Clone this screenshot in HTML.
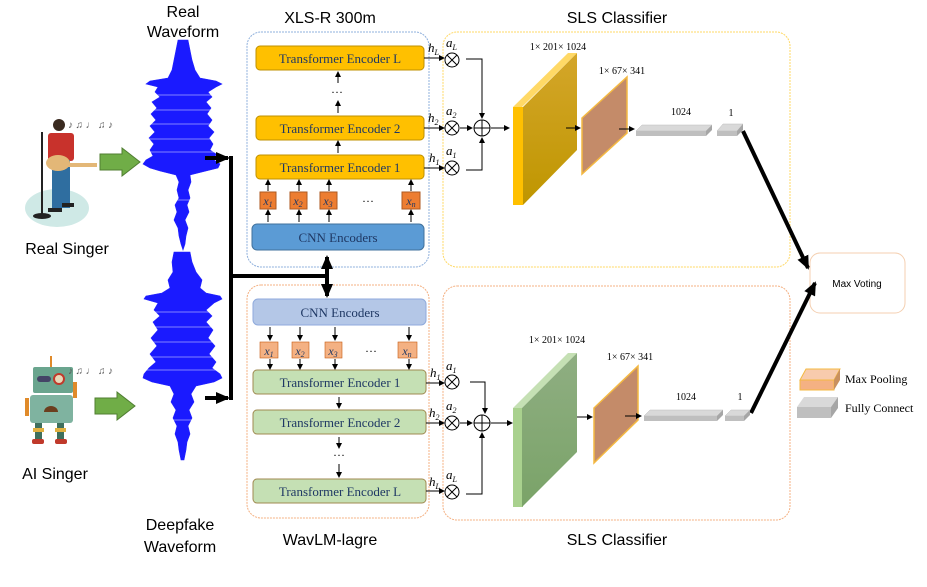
<!DOCTYPE html>
<html><head><meta charset="utf-8"><style>
html,body{margin:0;padding:0;background:#fff;}
svg{display:block;}
.sans{font-family:"Liberation Sans",sans-serif;}
.serif{font-family:"Liberation Serif",serif;}
</style></head><body>
<svg width="927" height="587" viewBox="0 0 927 587" xmlns="http://www.w3.org/2000/svg">
<defs>
<marker id="a" markerWidth="6" markerHeight="6" refX="5" refY="3" orient="auto" markerUnits="userSpaceOnUse"><path d="M0,0 L6,3 L0,6z" fill="#000"/></marker>
<marker id="b" markerWidth="14" markerHeight="12" refX="12" refY="6" orient="auto" markerUnits="userSpaceOnUse"><path d="M0,0 L14,6 L0,12z" fill="#000"/></marker>
<linearGradient id="gy" x1="0" y1="0" x2="0" y2="1"><stop offset="0" stop-color="#d4a62a"/><stop offset="1" stop-color="#bf9600"/></linearGradient>
<linearGradient id="gg" x1="0" y1="0" x2="0" y2="1"><stop offset="0" stop-color="#8fae82"/><stop offset="1" stop-color="#7aa368"/></linearGradient>
</defs>

<g class="sans" font-size="16" fill="#000" text-anchor="middle">
<text x="183" y="17">Real</text><text x="183" y="37">Waveform</text>
<text x="330" y="23">XLS-R 300m</text>
<text x="617" y="23">SLS  Classifier</text>
<text x="67" y="254">Real Singer</text>
<text x="55" y="479">AI Singer</text>
<text x="180" y="530">Deepfake</text><text x="180" y="552">Waveform</text>
<text x="330" y="545">WavLM-lagre</text>
<text x="617" y="545">SLS  Classifier</text>
</g>

<!-- waveforms -->
<g fill="#1a1aff" stroke="#2020ff" stroke-width="0.6">
<polygon points="178,40 176,50 174,60 172,70 168,78 150,81 146,84 158,87 155,92 160,97 152,102 157,108 151,114 156,120 150,126 155,132 149,138 154,144 150,150 153,156 146,160 143,164 150,168 160,171 176,175 179,182 177,190 179,198 175,205 177,212 174,220 178,228 179,236 181,244 183,250 185,244 186,236 188,228 185,220 189,212 187,205 190,198 188,190 191,182 190,175 206,171 218,168 220,164 214,160 216,154 210,150 213,144 209,138 214,132 208,126 212,120 207,114 211,108 206,102 212,97 208,92 216,87 222,84 216,81 200,78 195,70 192,60 190,50 188,40"/>
<polygon points="174,252 172,262 173,272 168,280 170,288 162,293 146,296 144,299 158,303 154,310 160,316 153,322 158,330 151,338 157,346 150,354 156,362 149,368 144,374 143,378 152,382 170,386 174,394 171,402 176,410 173,418 177,426 175,434 178,442 179,450 181,460 184,460 186,450 187,442 190,434 188,426 192,418 189,410 194,402 191,394 196,386 214,382 222,378 220,374 212,368 216,362 209,354 215,346 208,338 213,330 206,322 212,316 206,310 214,303 222,299 220,296 206,293 200,288 202,280 196,272 192,262 190,252"/>
</g>
<g stroke="#fff" stroke-width="0.7" opacity="0.6">
<line x1="140" y1="95" x2="226" y2="95"/><line x1="140" y1="110" x2="226" y2="110"/><line x1="140" y1="124" x2="226" y2="124"/><line x1="140" y1="139" x2="226" y2="139"/><line x1="140" y1="152" x2="226" y2="152"/><line x1="140" y1="200" x2="226" y2="200"/>
<line x1="140" y1="312" x2="226" y2="312"/><line x1="140" y1="327" x2="226" y2="327"/><line x1="140" y1="342" x2="226" y2="342"/><line x1="140" y1="357" x2="226" y2="357"/><line x1="140" y1="370" x2="226" y2="370"/><line x1="140" y1="420" x2="226" y2="420"/>
</g>

<!-- real singer -->
<ellipse cx="57" cy="208" rx="32" ry="19" fill="#cfe9e6"/>
<line x1="42" y1="132" x2="42" y2="215" stroke="#222" stroke-width="2"/>
<ellipse cx="42" cy="216" rx="9" ry="3" fill="#222"/>
<circle cx="59" cy="125" r="6" fill="#3a2a20"/>
<rect x="48" y="133" width="26" height="28" rx="3" fill="#c8322c"/>
<rect x="52" y="160" width="18" height="48" fill="#2f6ea0"/>
<rect x="48" y="208" width="14" height="4" fill="#222"/><rect x="62" y="203" width="12" height="4" fill="#222"/>
<ellipse cx="58" cy="163" rx="12" ry="8" fill="#e3b777"/>
<rect x="64" y="163" width="33" height="4" fill="#e3b777"/>
<text x="68" y="128" class="serif" font-size="10" fill="#555">♪ ♫ ♩ ♫ ♪</text>
<polygon points="100,154 122,154 122,148 140,162 122,176 122,170 100,170" fill="#70ad47" stroke="#507e32" stroke-width="1"/>

<!-- robot -->
<line x1="51" y1="356" x2="51" y2="367" stroke="#e08a2a" stroke-width="2"/>
<rect x="33" y="367" width="40" height="26" rx="2" fill="#6aa58e"/>
<circle cx="59" cy="379" r="5" fill="#e8d8b8" stroke="#c0392b" stroke-width="2"/>
<rect x="37" y="376" width="14" height="6" rx="3" fill="#446"/>
<rect x="30" y="395" width="43" height="28" rx="3" fill="#7fb3a0"/>
<path d="M44,412 a7,6 0 0 1 14,0z" fill="#6b3e1e"/>
<rect x="35" y="423" width="7" height="16" fill="#3f6f5d"/><rect x="57" y="423" width="7" height="16" fill="#3f6f5d"/>
<rect x="33" y="428" width="11" height="4" fill="#e0b040"/><rect x="55" y="428" width="11" height="4" fill="#e0b040"/>
<rect x="32" y="439" width="12" height="5" rx="2" fill="#c0392b"/><rect x="55" y="439" width="12" height="5" rx="2" fill="#c0392b"/>
<rect x="25" y="398" width="4" height="18" fill="#e08a2a"/><rect x="73" y="382" width="4" height="16" fill="#e08a2a"/>
<text x="68" y="374" class="serif" font-size="10" fill="#555">♪ ♫ ♩ ♫ ♪</text>
<polygon points="95,398 117,398 117,392 135,406 117,420 117,414 95,414" fill="#70ad47" stroke="#507e32" stroke-width="1"/>

<!-- panels -->
<rect x="247" y="32" width="182" height="235" rx="14" fill="none" stroke="#8fb0dc" stroke-dasharray="2,1"/>
<rect x="443" y="32" width="347" height="235" rx="14" fill="none" stroke="#ffd966" stroke-dasharray="2,1"/>
<rect x="247" y="285" width="182" height="233" rx="14" fill="none" stroke="#f4b183" stroke-dasharray="2,1"/>
<rect x="443" y="286" width="347" height="234" rx="14" fill="none" stroke="#f4b183" stroke-dasharray="2,1"/>
<rect x="810" y="253" width="95" height="60" rx="10" fill="#fff" stroke="#f4cfb0"/>
<text x="857" y="287" class="sans" font-size="10" text-anchor="middle">Max Voting</text>

<!-- thick connectors -->
<g stroke="#000" stroke-width="4" fill="none">
<line x1="205" y1="158" x2="228" y2="158" marker-end="url(#b)"/>
<line x1="205" y1="398" x2="228" y2="398" marker-end="url(#b)"/>
<line x1="231" y1="156" x2="231" y2="400"/>
<line x1="231" y1="276" x2="327" y2="276"/>
<line x1="327" y1="276" x2="327" y2="257" marker-end="url(#b)"/>
<line x1="327" y1="276" x2="327" y2="296" marker-end="url(#b)"/>
<line x1="743" y1="131" x2="808" y2="268" marker-end="url(#b)"/>
<line x1="751" y1="413" x2="815" y2="283" marker-end="url(#b)"/>
</g>

<!-- top encoder -->
<g class="serif" font-size="13" fill="#1f3864" text-anchor="middle">
<rect x="256" y="46" width="168" height="24" rx="4" fill="#ffc000" stroke="#bf9000"/>
<text x="340" y="63">Transformer Encoder  L</text>
<rect x="256" y="116" width="168" height="24" rx="4" fill="#ffc000" stroke="#bf9000"/>
<text x="340" y="133">Transformer Encoder  2</text>
<rect x="256" y="155" width="168" height="24" rx="4" fill="#ffc000" stroke="#bf9000"/>
<text x="340" y="172">Transformer Encoder  1</text>
<rect x="252" y="224" width="172" height="26" rx="5" fill="#5b9bd5" stroke="#41719c"/>
<text x="338" y="242">CNN Encoders</text>
</g>
<text x="337" y="96" class="serif" font-size="12" text-anchor="middle">···</text>
<g stroke="#000" stroke-width="1" marker-end="url(#a)">
<line x1="338" y1="83" x2="338" y2="72"/><line x1="338" y1="113" x2="338" y2="101"/><line x1="338" y1="153" x2="338" y2="141"/>
<line x1="268" y1="222" x2="268" y2="210"/><line x1="299" y1="222" x2="299" y2="210"/><line x1="329" y1="222" x2="329" y2="210"/><line x1="411" y1="222" x2="411" y2="210"/>
<line x1="268" y1="191" x2="268" y2="180"/><line x1="299" y1="191" x2="299" y2="180"/><line x1="329" y1="191" x2="329" y2="180"/><line x1="411" y1="191" x2="411" y2="180"/>
</g>
<g fill="#ed7d31" stroke="#ae5a21">
<rect x="260" y="192" width="16" height="17"/><rect x="290" y="192" width="17" height="17"/><rect x="320" y="192" width="17" height="17"/><rect x="402" y="192" width="18" height="17"/>
</g>
<g class="serif" font-size="12" font-style="italic" fill="#1f3864" text-anchor="middle">
<text x="268" y="205">x<tspan font-size="8" dy="2">1</tspan></text><text x="298" y="205">x<tspan font-size="8" dy="2">2</tspan></text><text x="328" y="205">x<tspan font-size="8" dy="2">3</tspan></text><text x="411" y="205">x<tspan font-size="8" dy="2">n</tspan></text>
</g>
<text x="368" y="205" class="serif" font-size="12" text-anchor="middle">···</text>

<!-- bottom encoder -->
<g class="serif" font-size="13" fill="#1f3864" text-anchor="middle">
<rect x="253" y="299" width="173" height="26" rx="5" fill="#b4c7e7" stroke="#8faadc"/>
<text x="340" y="317">CNN Encoders</text>
<rect x="253" y="370" width="173" height="24" rx="4" fill="#c5e0b4" stroke="#a08a50"/>
<text x="340" y="387">Transformer Encoder  1</text>
<rect x="253" y="410" width="173" height="24" rx="4" fill="#c5e0b4" stroke="#a08a50"/>
<text x="340" y="427">Transformer Encoder  2</text>
<rect x="253" y="479" width="173" height="24" rx="4" fill="#c5e0b4" stroke="#a08a50"/>
<text x="340" y="496">Transformer Encoder  L</text>
</g>
<text x="339" y="459" class="serif" font-size="12" text-anchor="middle">···</text>
<g stroke="#000" stroke-width="1" marker-end="url(#a)">
<line x1="270" y1="327" x2="270" y2="340"/><line x1="300" y1="327" x2="300" y2="340"/><line x1="335" y1="327" x2="335" y2="340"/><line x1="409" y1="327" x2="409" y2="340"/>
<line x1="270" y1="359" x2="270" y2="369"/><line x1="300" y1="359" x2="300" y2="369"/><line x1="335" y1="359" x2="335" y2="369"/><line x1="409" y1="359" x2="409" y2="369"/>
<line x1="339" y1="397" x2="339" y2="408"/><line x1="339" y1="437" x2="339" y2="448"/><line x1="339" y1="464" x2="339" y2="477"/>
</g>
<g fill="#f4b183" stroke="#c55a11" stroke-width="0.6">
<rect x="260" y="342" width="18" height="16"/><rect x="292" y="342" width="17" height="16"/><rect x="325" y="342" width="17" height="16"/><rect x="398" y="342" width="19" height="16"/>
</g>
<g class="serif" font-size="12" font-style="italic" fill="#1f3864" text-anchor="middle">
<text x="269" y="355">x<tspan font-size="8" dy="2">1</tspan></text><text x="300" y="355">x<tspan font-size="8" dy="2">2</tspan></text><text x="333" y="355">x<tspan font-size="8" dy="2">3</tspan></text><text x="407" y="355">x<tspan font-size="8" dy="2">n</tspan></text>
</g>
<text x="371" y="355" class="serif" font-size="12" text-anchor="middle">···</text>

<!-- top classifier -->
<polygon points="513,107 568,53 577,53 522,107" fill="#ffd966"/>
<rect x="513" y="107" width="10" height="98" fill="#ffc000"/>
<polygon points="523,107 577,53 577,150 523,205" fill="url(#gy)"/>
<polygon points="582,118 627,77 627,133 582,174" fill="#c48b69" stroke="#f4b942" stroke-width="1.5"/>
<polygon points="636,131 642,125 712,125 706,131" fill="#d9d9d9" stroke="#bbb" stroke-width="0.5"/>
<rect x="636" y="131" width="70" height="5" fill="#bfbfbf"/>
<polygon points="706,131 712,125 712,130 706,136" fill="#a6a6a6"/>
<polygon points="717,131 723,124 743,124 737,131" fill="#d9d9d9" stroke="#bbb" stroke-width="0.5"/>
<rect x="717" y="131" width="20" height="5" fill="#bfbfbf"/>
<polygon points="737,131 743,124 743,130 737,136" fill="#a6a6a6"/>
<g class="serif" font-size="10" text-anchor="middle">
<text x="558" y="50">1× 201× 1024</text>
<text x="622" y="74">1× 67× 341</text>
<text x="681" y="115">1024</text>
<text x="731" y="116">1</text>
</g>

<!-- bottom classifier -->
<polygon points="513,408 568,353 577,353 522,408" fill="#c5e0b4"/>
<rect x="513" y="408" width="10" height="99" fill="#a9d18e"/>
<polygon points="522,408 577,353 577,452 522,507" fill="url(#gg)"/>
<polygon points="594,408 638,366 638,420 594,463" fill="#c48b69" stroke="#f4b942" stroke-width="1.5"/>
<polygon points="644,416 650,410 723,410 717,416" fill="#d9d9d9" stroke="#bbb" stroke-width="0.5"/>
<rect x="644" y="416" width="73" height="5" fill="#bfbfbf"/>
<polygon points="717,416 723,410 723,415 717,421" fill="#a6a6a6"/>
<polygon points="725,416 731,410 750,410 744,416" fill="#d9d9d9" stroke="#bbb" stroke-width="0.5"/>
<rect x="725" y="416" width="19" height="5" fill="#bfbfbf"/>
<polygon points="744,416 750,410 750,415 744,421" fill="#a6a6a6"/>
<g class="serif" font-size="10" text-anchor="middle">
<text x="557" y="343">1× 201× 1024</text>
<text x="630" y="360">1× 67× 341</text>
<text x="686" y="400">1024</text>
<text x="740" y="400">1</text>
</g>

<!-- weighted sum top -->
<g stroke="#000" stroke-width="1" fill="none">
<line x1="424" y1="58" x2="444" y2="58" marker-end="url(#a)"/>
<line x1="424" y1="128" x2="444" y2="128" marker-end="url(#a)"/>
<line x1="424" y1="168" x2="444" y2="168" marker-end="url(#a)"/>
<circle cx="452" cy="60" r="7"/><path d="M447,55 L457,65 M457,55 L447,65"/>
<circle cx="452" cy="128" r="7"/><path d="M447,123 L457,133 M457,123 L447,133"/>
<circle cx="452" cy="168" r="7"/><path d="M447,163 L457,173 M457,163 L447,173"/>
<circle cx="482" cy="128" r="8"/><path d="M474,128 H490 M482,120 V136"/>
<polyline points="466,59 482,59 482,118" marker-end="url(#a)"/>
<polyline points="466,170 482,170 482,138" marker-end="url(#a)"/>
<line x1="460" y1="128" x2="472" y2="128" marker-end="url(#a)"/>
<line x1="491" y1="128" x2="509" y2="128" marker-end="url(#a)"/>
<line x1="566" y1="128" x2="580" y2="128" marker-end="url(#a)"/>
<line x1="619" y1="129" x2="634" y2="129" marker-end="url(#a)"/>
</g>
<g class="serif" font-size="13" font-style="italic">
<text x="428" y="52">h<tspan font-size="8" dy="3">L</tspan></text>
<text x="446" y="47">a<tspan font-size="8" dy="3">L</tspan></text>
<text x="428" y="122">h<tspan font-size="8" dy="3">2</tspan></text>
<text x="446" y="115">a<tspan font-size="8" dy="3">2</tspan></text>
<text x="429" y="162">h<tspan font-size="8" dy="3">1</tspan></text>
<text x="446" y="155">a<tspan font-size="8" dy="3">1</tspan></text>
</g>

<!-- weighted sum bottom -->
<g stroke="#000" stroke-width="1" fill="none">
<line x1="426" y1="383" x2="444" y2="383" marker-end="url(#a)"/>
<line x1="426" y1="423" x2="444" y2="423" marker-end="url(#a)"/>
<line x1="426" y1="491" x2="444" y2="491" marker-end="url(#a)"/>
<circle cx="452" cy="382" r="7"/><path d="M447,377 L457,387 M457,377 L447,387"/>
<circle cx="452" cy="423" r="7"/><path d="M447,418 L457,428 M457,418 L447,428"/>
<circle cx="452" cy="492" r="7"/><path d="M447,487 L457,497 M457,487 L447,497"/>
<circle cx="482" cy="423" r="8"/><path d="M474,423 H490 M482,415 V431"/>
<polyline points="470,382 485,382 485,413" marker-end="url(#a)"/>
<polyline points="466,494 482,494 482,433" marker-end="url(#a)"/>
<line x1="460" y1="423" x2="472" y2="423" marker-end="url(#a)"/>
<line x1="491" y1="423" x2="512" y2="423" marker-end="url(#a)"/>
<line x1="577" y1="417" x2="592" y2="417" marker-end="url(#a)"/>
<line x1="625" y1="416" x2="641" y2="416" marker-end="url(#a)"/>
</g>
<g class="serif" font-size="13" font-style="italic">
<text x="430" y="377">h<tspan font-size="8" dy="3">1</tspan></text>
<text x="446" y="370">a<tspan font-size="8" dy="3">1</tspan></text>
<text x="429" y="417">h<tspan font-size="8" dy="3">2</tspan></text>
<text x="446" y="410">a<tspan font-size="8" dy="3">2</tspan></text>
<text x="429" y="486">h<tspan font-size="8" dy="3">L</tspan></text>
<text x="446" y="479">a<tspan font-size="8" dy="3">L</tspan></text>
</g>

<!-- legend -->
<polygon points="800,380 806,369 840,369 834,380" fill="#f8cbad" stroke="#f4b942" stroke-width="1"/>
<rect x="800" y="380" width="34" height="10" fill="#f4b183" stroke="#f4b942" stroke-width="1"/>
<polygon points="834,380 840,369 840,380 834,390" fill="#c9905f"/>
<polygon points="797,407 804,397 838,397 831,407" fill="#d9d9d9"/>
<rect x="797" y="407" width="34" height="11" fill="#bfbfbf"/>
<polygon points="831,407 838,397 838,408 831,418" fill="#a6a6a6"/>
<g class="serif" font-size="12">
<text x="845" y="383">Max Pooling</text>
<text x="845" y="412">Fully Connect</text>
</g>
</svg>
</body></html>
